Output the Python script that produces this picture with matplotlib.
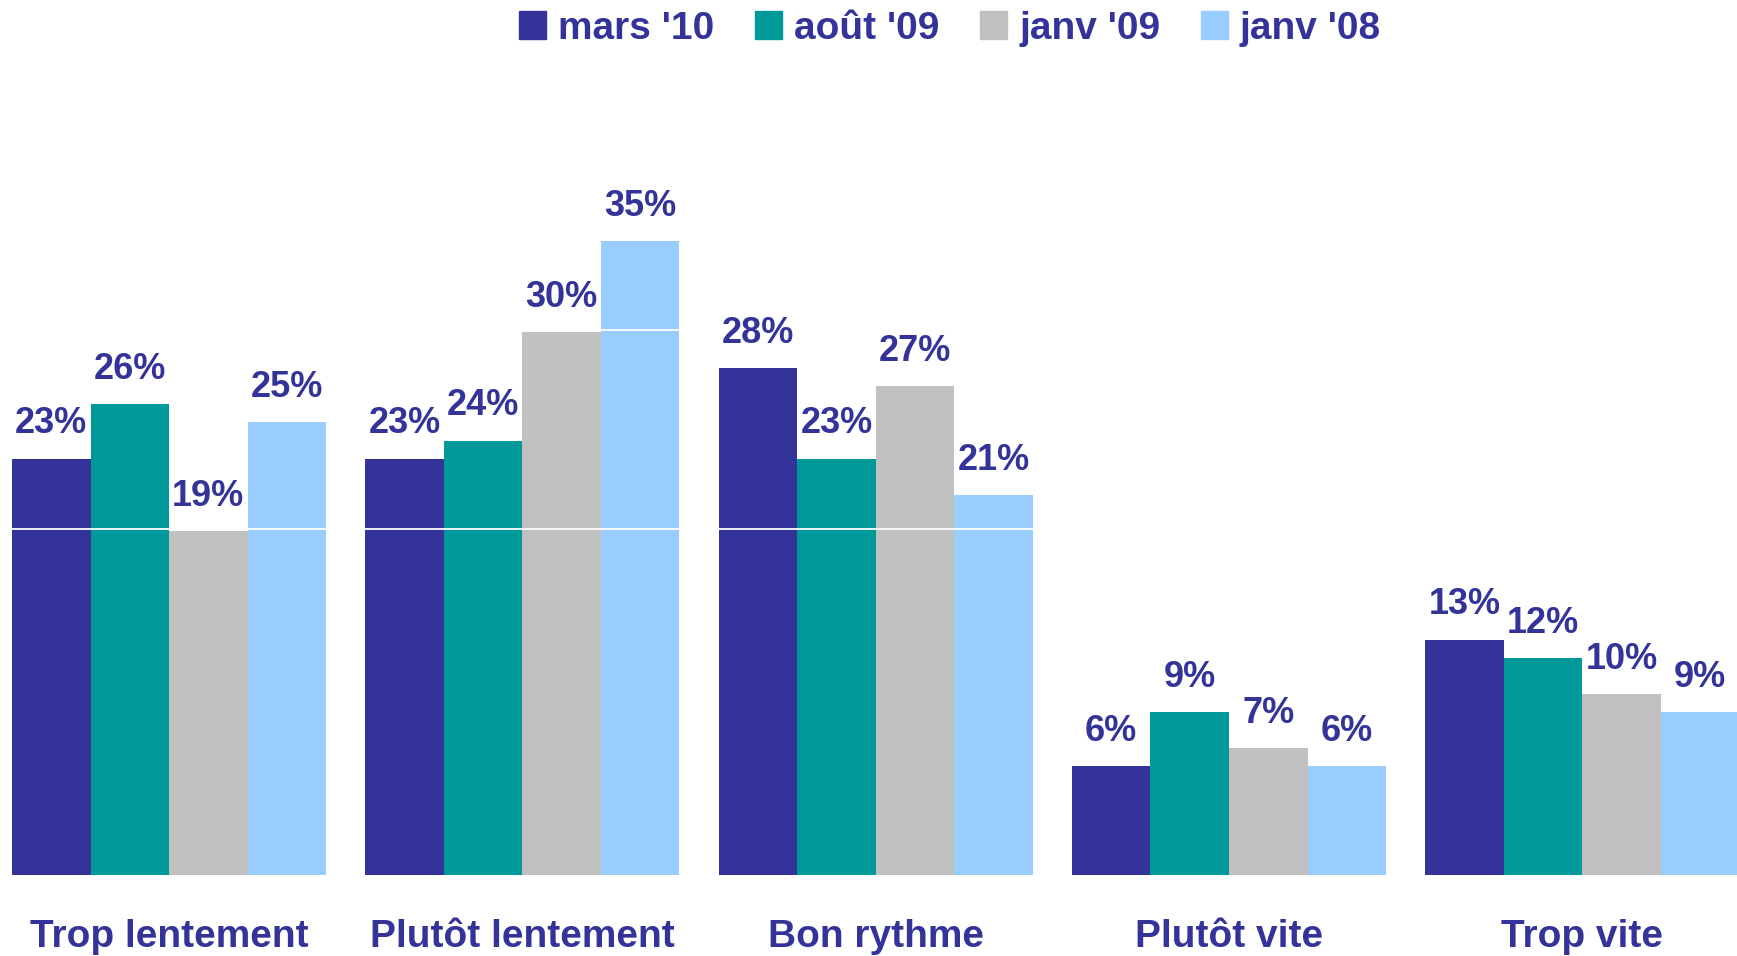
import numpy as np
import matplotlib.pyplot as plt
from matplotlib.patches import Patch

plt.rcParams['font.family'] = ['Liberation Sans', 'DejaVu Sans']

# data
categories = ["Trop lentement", "Plutôt lentement", "Bon rythme", "Plutôt vite", "Trop vite"]
series = ["mars '10", "août '09", "janv '09", "janv '08"]
mars_10 = [23, 23, 28, 6, 13]
aout_09 = [26, 24, 23, 9, 12]
janv_09 = [19, 30, 27, 7, 10]
janv_08 = [25, 35, 21, 6, 9]

values = [mars_10, aout_09, janv_09, janv_08]
colors = ["#333399", "#009999", "#C0C0C0", "#99CCFF"]
text_color = "#333399"
grid_levels = [19.1, 30.1]

fig = plt.figure(figsize=(17.37, 9.56), dpi=100)
ax = fig.add_axes([0, 81 / 956, 1, 875 / 956])

period = 4.5
centers = np.arange(len(categories)) * period

for j, (vals, col) in enumerate(zip(values, colors)):
    x = centers + (j - 1.5)
    bars = ax.bar(x, vals, width=1.0, color=col, label=series[j], zorder=2)
    for b, v in zip(bars, vals):
        ax.text(b.get_x() + b.get_width() / 2, v + 0.95, f"{v}%",
                ha="center", va="bottom", fontsize=26, fontweight="bold",
                color=text_color, zorder=3)

for g in grid_levels:
    ax.axhline(g, color="white", lw=1.3, zorder=2.5)

ax.set_xlim(-2.153, 19.97)
ax.set_ylim(0, 48.34)
ax.set_xticks(centers)
ax.set_xticklabels(categories, fontsize=28, fontweight="bold", color=text_color)
ax.tick_params(axis="x", length=0, pad=32)
ax.set_yticks([])
for s in ax.spines.values():
    s.set_visible(False)

handles = [Patch(color=c) for c in colors]
leg = fig.legend(handles, series, loc="center", bbox_to_anchor=(0.547, 0.97),
                 ncol=4, frameon=False, fontsize=28,
                 handlelength=0.7, handleheight=0.7, handletextpad=0.3,
                 columnspacing=1.05, borderaxespad=0)
for t in leg.get_texts():
    t.set_color(text_color)
    t.set_fontweight("bold")

fig.savefig("out.png", dpi=100)
